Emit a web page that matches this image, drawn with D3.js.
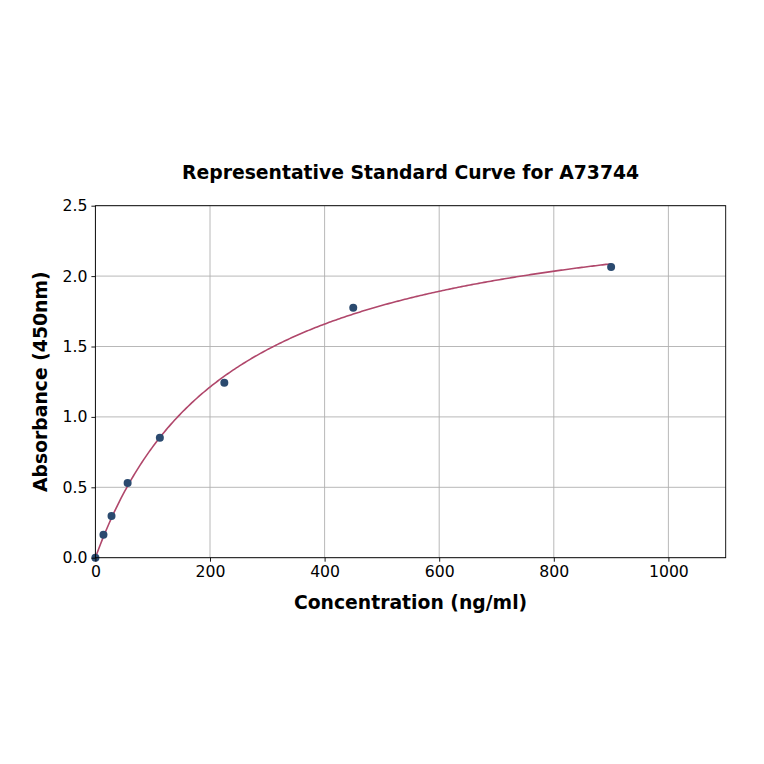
<!DOCTYPE html>
<html><head><meta charset="utf-8">
<script src="https://cdn.jsdelivr.net/npm/d3@7"></script>
<style>
html,body{margin:0;padding:0;background:#fff;}
svg text{font-family:"DejaVu Sans",sans-serif;}
</style></head>
<body><svg id="c" width="764" height="764"></svg>
<script>
const concentrations = [0, 14.06, 28.125, 56.25, 112.5, 225, 450, 900];
const absorbances = [0.0, 0.163, 0.296, 0.53, 0.852, 1.243, 1.776, 2.065];
// fitted curve parameters (4PL): y = d + (a-d)/(1+(x/c)^b)
const fitA = [0.0];
const fitB = [1.0];
const fitC = [234];
const fitD = [2.63];
const xTicks = [0, 200, 400, 600, 800, 1000];
const yTicks = [0.0, 0.5, 1.0, 1.5, 2.0, 2.5];
const title = "Representative Standard Curve for A73744";
const xLabel = "Concentration (ng/ml)";
const yLabel = "Absorbance (450nm)";

const svg = d3.select("#c");
const L = 95.4, R = 725.7, T = 205.7, B = 557.7;
const x = d3.scaleLinear().domain([0, 1100]).range([L, R]);
const y = d3.scaleLinear().domain([0, 2.5]).range([B, T]);

// grid
svg.append("g").selectAll("line").data(xTicks).join("line")
  .attr("x1", d => x(d)).attr("x2", d => x(d)).attr("y1", T).attr("y2", B)
  .attr("stroke", "#b0b0b0").attr("stroke-width", 0.9);
svg.append("g").selectAll("line").data(yTicks).join("line")
  .attr("x1", L).attr("x2", R).attr("y1", d => y(d)).attr("y2", d => y(d))
  .attr("stroke", "#b0b0b0").attr("stroke-width", 0.9);

// curve
const f = v => fitD[0] + (fitA[0] - fitD[0]) / (1 + Math.pow(v / fitC[0], fitB[0]));
const xs = d3.range(0, 901, 3);
svg.append("path").datum(xs)
  .attr("d", d3.line().x(d => x(d)).y(d => y(f(d))))
  .attr("fill", "none").attr("stroke", "#b0476b").attr("stroke-width", 1.6);

// points
svg.append("g").selectAll("circle").data(concentrations.map((c, i) => [c, absorbances[i]])).join("circle")
  .attr("cx", d => x(d[0])).attr("cy", d => y(d[1])).attr("r", 4)
  .attr("fill", "#2b4a6f");

// axes
const xa = svg.append("g").attr("transform", `translate(0,${B})`)
  .call(d3.axisBottom(x).tickValues(xTicks).tickFormat(d3.format("d")).tickSize(4).tickPadding(4));
const ya = svg.append("g").attr("transform", `translate(${L},0)`)
  .call(d3.axisLeft(y).tickValues(yTicks).tickFormat(d3.format(".1f")).tickSize(4).tickPadding(4));
[xa, ya].forEach(g => {
  g.selectAll("text").attr("font-size", "15.7px").attr("fill", "#000").style("font-family", "DejaVu Sans");
  g.selectAll("line").attr("stroke", "#000").attr("stroke-width", 0.9);
  g.select(".domain").remove();
});
svg.append("rect").attr("x", L).attr("y", T).attr("width", R - L).attr("height", B - T)
  .attr("fill", "none").attr("stroke", "#000").attr("stroke-width", 0.9);

svg.append("text").attr("x", (L + R) / 2).attr("y", 179).attr("text-anchor", "middle")
  .attr("font-size", "18.8px").attr("font-weight", "bold").text(title);
svg.append("text").attr("x", (L + R) / 2).attr("y", 609).attr("text-anchor", "middle")
  .attr("font-size", "18.8px").attr("font-weight", "bold").text(xLabel);
svg.append("text").attr("transform", `translate(47,${(T + B) / 2}) rotate(-90)`).attr("text-anchor", "middle")
  .attr("font-size", "18.8px").attr("font-weight", "bold").text(yLabel);
</script></body></html>
